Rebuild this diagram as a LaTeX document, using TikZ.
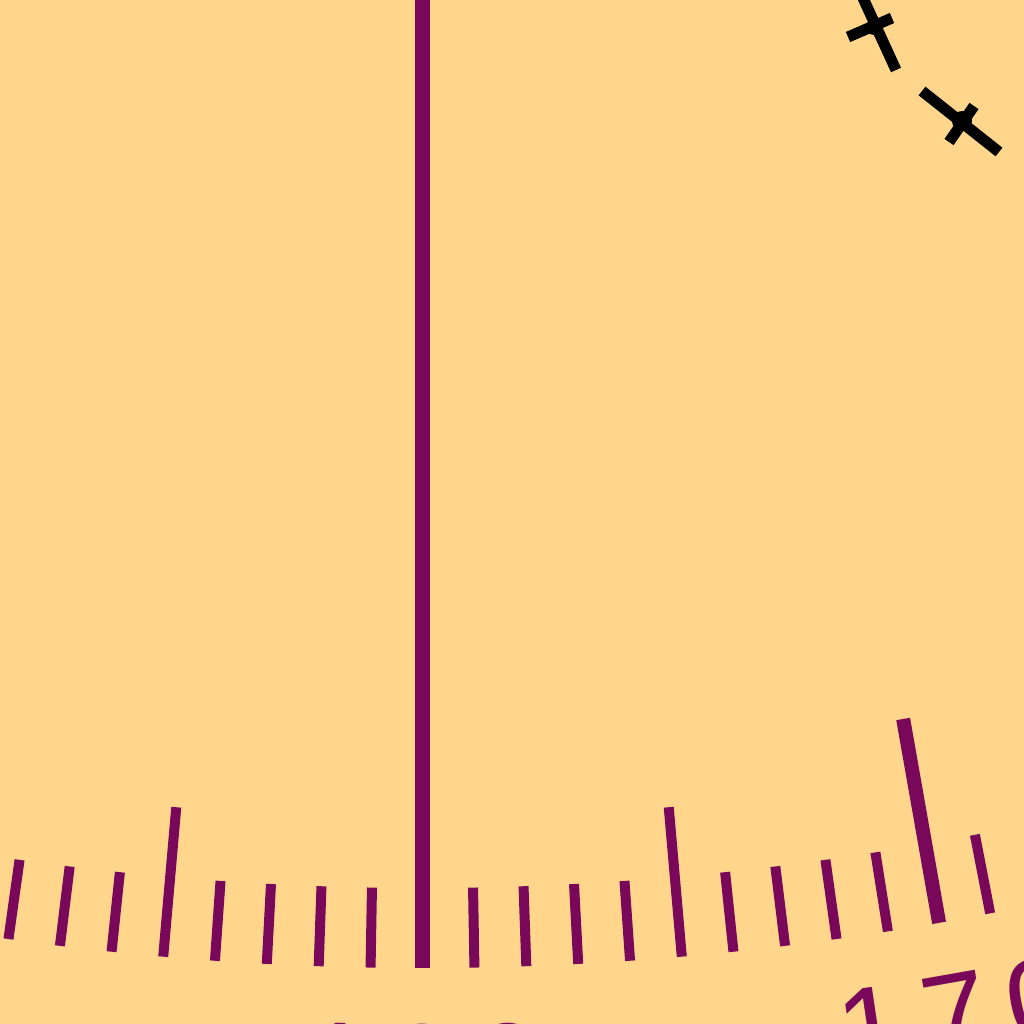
\documentclass[tikz,border=0pt]{standalone}
\usepackage{fontspec}
\setmainfont{Liberation Sans}
\usetikzlibrary{calc}
\definecolor{bg}{RGB}{255,214,140}
\definecolor{dial}{RGB}{122,8,90}
\begin{document}
\begin{tikzpicture}[x=1pt,y=1pt,
  minortick/.style={draw=dial,line width=10pt},
  midtick/.style={draw=dial,line width=10pt},
  majortick/.style={draw=dial,line width=14pt},
  digit/.style={text=dial,font=\fontsize{118}{120}\selectfont,inner sep=0pt,anchor=north},
  marker/.style={draw=black,line width=11pt},
  markerhub/.style={fill=black}]
\useasboundingbox (0,0) rectangle (1024,-1024);
\clip (0,0) rectangle (1024,-1024);
\fill[bg] (0,0) rectangle (1024,-1024);
\coordinate (C) at (422.5,2007);
% minor ticks (one per degree)
\foreach \i in {-9,-8,-7,-6,-4,-3,-2,-1,1,2,3,4,6,7,8,9,11}
  \draw[minortick] ($(C)+(-90+\i:2975)$) -- ($(C)+(-90+\i:2895)$);
% five-degree ticks
\foreach \i in {-5,5}
  \draw[midtick] ($(C)+(-90+\i:2975)$) -- ($(C)+(-90+\i:2825)$);
% ten-degree ticks
\draw[majortick] ($(C)+(-80:2975)$) -- ($(C)+(-80:2768)$);
\draw[majortick] ($(C)+(-100:2975)$) -- ($(C)+(-100:2768)$);
% lubber / 180 line
\draw[draw=dial,line width=15pt] ($(C)+(-90:2975)$) -- (C);
% numbers
\node[digit,rotate=-1.59] (n180a) at ($(C)+(-91.59:3031)$) {1};
\node[digit,rotate=0] (n180b) at ($(C)+(-90:3031)$) {8};
\node[digit,rotate=1.59] (n180c) at ($(C)+(-88.41:3031)$) {0};
\node[digit,rotate=8.41] (n170a) at ($(C)+(-81.59:3028)$) {1};
\node[digit,rotate=10] (n170b) at ($(C)+(-80:3028)$) {7};
\node[digit,rotate=11.59] (n170c) at ($(C)+(-78.41:3028)$) {0};
\node[digit,rotate=-11.7] (n190a) at ($(C)+(-101.7:3030)$) {1};
\node[digit,rotate=-10.1] (n190b) at ($(C)+(-100.1:3030)$) {9};
\node[digit,rotate=-8.5] (n190c) at ($(C)+(-98.5:3030)$) {0};
% black markers
\coordinate (m1a) at (863,2);
\coordinate (m1b) at (896,-70);
\coordinate (m1c) at (848,-37);
\coordinate (m1d) at (892,-18);
\draw[marker] (m1a) -- (m1b);
\draw[marker] (m1c) -- (m1d);
\fill[markerhub] (874,-27) circle (8);
\coordinate (m2a) at (922,-91);
\coordinate (m2b) at (999,-152);
\coordinate (m2c) at (949,-142);
\coordinate (m2d) at (974,-106);
\draw[marker] (m2a) -- (m2b);
\draw[marker] (m2c) -- (m2d);
\fill[markerhub] (962,-121) circle (10);
\end{tikzpicture}
\end{document}
